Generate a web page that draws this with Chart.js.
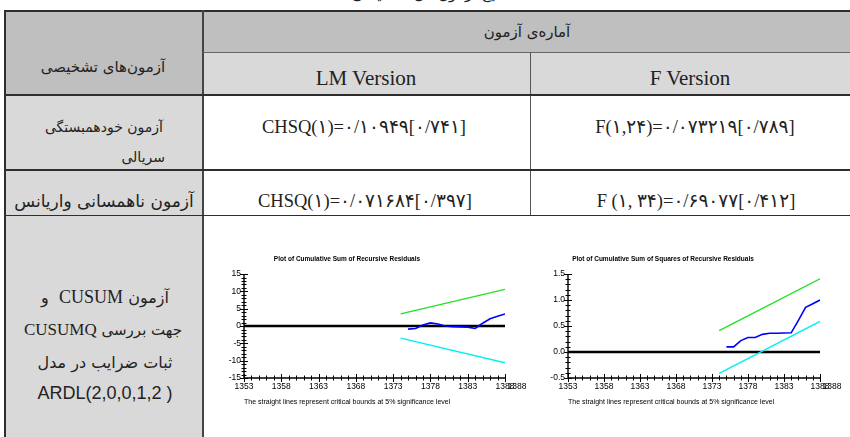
<!DOCTYPE html>
<html lang="fa">
<head>
<meta charset="UTF-8">
<title>آزمون‌های تشخیصی</title>
<script src="https://cdn.jsdelivr.net/npm/chart.js"></script>
<style>
  body { margin: 0; width: 850px; height: 437px; overflow: hidden; background: #fff; position: relative; }
  .box { position: absolute; }
  .ln { position: absolute; background: #2e2e2e; }
  .t { position: absolute; white-space: nowrap; color: #222; font-family: "DejaVu Sans", sans-serif; font-size: 15px; transform: translate(-50%, -50%); }
  .lat { font-family: "Liberation Serif", "DejaVu Sans", serif; font-size: 21px; direction: ltr; unicode-bidi: isolate; }
  canvas { position: absolute; }
</style>
</head>
<body>
<!-- cell backgrounds -->
<div class="box" style="left:5px;top:11px;width:198px;height:84px;background:#bfbfbf"></div>
<div class="box" style="left:203px;top:11px;width:647px;height:41px;background:#bfbfbf"></div>
<div class="box" style="left:203px;top:52px;width:647px;height:43px;background:#d9d9d9"></div>
<div class="box" style="left:5px;top:95px;width:198px;height:342px;background:#d9d9d9"></div>

<!-- grid lines -->
<div class="ln" style="left:4px;top:10px;width:846px;height:2px"></div>
<div class="ln" style="left:4px;top:10px;width:2px;height:427px"></div>
<div class="ln" style="left:202px;top:10px;width:2px;height:427px;background:#444"></div>
<div class="ln" style="left:203px;top:52px;width:647px;height:1px;background:#666"></div>
<div class="ln" style="left:530px;top:52px;width:1px;height:164px;background:#555"></div>
<div class="ln" style="left:4px;top:94px;width:846px;height:2px"></div>
<div class="ln" style="left:4px;top:169px;width:846px;height:2px"></div>
<div class="ln" style="left:4px;top:215px;width:846px;height:1px"></div>

<!-- texts -->
<div class="t" style="left:430px;top:-6px" dir="rtl">نتایج آزمون‌های تشخیصی</div>
<div class="t" style="left:527px;top:32px" dir="rtl">آماره‌ی آزمون</div>
<div class="t" style="left:103px;top:67px" dir="rtl">آزمون‌های تشخیصی</div>
<div class="t lat" style="left:366px;top:78px">LM Version</div>
<div class="t lat" style="left:690px;top:78px">F Version</div>

<div class="t lat" style="left:364px;top:127px;font-size:18.5px">CHSQ(۱)=۰/۱۰۹۴۹[۰/۷۴۱]</div>
<div class="t lat" style="left:695px;top:127px;font-size:18.5px">F(۱,۲۴)=۰/۰۷۳۲۱۹[۰/۷۸۹]</div>
<div class="t lat" style="left:365px;top:201px;font-size:18.5px">CHSQ(۱)=۰/۰۷۱۶۸۴[۰/۳۹۷]</div>
<div class="t lat" style="left:696px;top:201px;font-size:18.5px">F (۱, ۳۴)=۰/۶۹۰۷۷[۰/۴۱۲]</div>

<div class="t" style="left:auto;right:687px;top:127px;font-size:14px;transform:translateY(-50%)" dir="rtl">آزمون خودهمبستگی</div>
<div class="t" style="left:auto;right:685px;top:157px;font-size:14px;transform:translateY(-50%)" dir="rtl">سریالی</div>
<div class="t" style="left:104px;top:201px;font-size:17px" dir="rtl">آزمون ناهمسانی واریانس</div>

<div class="t" style="left:105px;top:297px;font-size:16px" dir="rtl">آزمون <span style="font-family:'Liberation Serif';font-size:18px">CUSUM</span>&nbsp; و</div>
<div class="t" style="left:103px;top:330px;font-size:15px" dir="ltr"><span style="font-family:'Liberation Serif';font-size:17px">CUSUMQ</span> جهت بررسی</div>
<div class="t" style="left:105px;top:362px;font-size:16px" dir="rtl">ثبات ضرایب در مدل</div>
<div class="t" style="left:105px;top:393px;font-size:18px;font-family:'Liberation Sans','DejaVu Sans'" dir="ltr">ARDL(2,0,0,1,2 )</div>

<canvas id="cusum" width="341" height="170" style="left:189px;top:250px"></canvas>
<canvas id="cusumsq" width="344" height="170" style="left:506px;top:250px"></canvas>

<script>
// x range of both plots
const axisYears = [1353, 1388];
const zeroLine = [0, 0];

// CUSUM plot
const boundYears = [1374, 1388];
const cusumUpper = [3.5, 10.6];
const cusumLower = [-3.5, -10.6];
const cusumYears = [1375, 1376, 1377, 1378, 1379, 1380, 1381, 1382, 1383, 1384, 1385, 1386, 1387, 1388];
const cusumValues = [-0.9, -0.7, 0.3, 0.9, 0.6, 0.0, -0.2, -0.25, -0.3, -0.7, 0.8, 2.1, 2.8, 3.5];

// CUSUM of squares plot
const sqUpper = [0.41, 1.41];
const sqLower = [-0.41, 0.59];
const sqValues = [0.10, 0.10, 0.22, 0.28, 0.28, 0.34, 0.36, 0.36, 0.365, 0.37, 0.61, 0.86, 0.93, 1.0];

const narrow = "'Liberation Sans Narrow', 'Liberation Sans', sans-serif";
const pts = (xs, ys) => xs.map((x, i) => ({x: x, y: ys[i]}));

// axis lines with "+" style ticks, and the repeated last year label
const crossTicks = {
  id: 'crossTicks',
  afterDatasetsDraw(chart, args, opts) {
    const {ctx, chartArea: a, scales: {x, y}} = chart;
    ctx.save();
    ctx.strokeStyle = '#000';
    ctx.lineWidth = 1.4;
    ctx.beginPath();
    ctx.moveTo(a.left, a.top);
    ctx.lineTo(a.left, a.bottom);
    ctx.lineTo(a.right, a.bottom);
    ctx.stroke();
    ctx.lineWidth = 1;
    ctx.beginPath();
    x.ticks.forEach(t => {
      const px = Math.round(x.getPixelForValue(t.value)) + 0.5;
      const len = t.label ? 4 : 2.5;
      ctx.moveTo(px, a.bottom - len);
      ctx.lineTo(px, a.bottom + len);
    });
    y.ticks.forEach(t => {
      const py = Math.round(y.getPixelForValue(t.value)) + 0.5;
      const len = t.label ? 4 : 2.5;
      ctx.moveTo(a.left - len, py);
      ctx.lineTo(a.left + len, py);
    });
    ctx.stroke();
    ctx.fillStyle = '#000';
    ctx.font = '8.5px ' + narrow;
    ctx.textAlign = 'center';
    ctx.textBaseline = 'top';
    ctx.fillText(String(axisYears[1]), x.getPixelForValue(axisYears[1]) + opts.ghost, a.bottom + 4);
    ctx.restore();
  }
};

function makeChart(id, title, upper, lower, values, yMin, yMax, yStep, yLabel, yWidth, padRight) {
  return new Chart(document.getElementById(id), {
    type: 'line',
    data: {
      datasets: [
        {data: pts(cusumYears, values), borderColor: '#0000ff', borderWidth: 1.6},
        {data: pts(boundYears, upper), borderColor: '#22e022', borderWidth: 1.4},
        {data: pts(boundYears, lower), borderColor: '#00f0f0', borderWidth: 1.4},
        {data: pts(axisYears, zeroLine), borderColor: '#000', borderWidth: 2.6}
      ]
    },
    options: {
      responsive: false,
      animation: false,
      layout: {padding: {left: 0, right: padRight, top: 0, bottom: 0}},
      elements: {point: {radius: 0}, line: {tension: 0}},
      plugins: {
        legend: {display: false},
        tooltip: {enabled: false},
        title: {
          display: true, text: title, color: '#000',
          font: {family: narrow, size: 6.5, weight: 'bold', lineHeight: 1.4},
          padding: {top: 5, bottom: 10}
        },
        crossTicks: {ghost: 12}
      },
      scales: {
        x: {
          type: 'linear', min: axisYears[0], max: axisYears[1],
          grid: {display: false, drawTicks: false},
          border: {display: false},
          afterFit: s => { s.height = 42; },
          ticks: {
            stepSize: 1, autoSkip: false, maxRotation: 0, minRotation: 0, padding: 4,
            color: '#000', font: {family: narrow, size: 8.5},
            callback: v => ((v - axisYears[0]) % 5 === 0 ? String(v) : '')
          },
          title: {
            display: true, align: 'start', color: '#000',
            text: 'The straight lines represent critical bounds at 5% significance level',
            font: {family: narrow, size: 7, lineHeight: 1.3}, padding: {top: 0, bottom: 13}
          }
        },
        y: {
          min: yMin, max: yMax,
          grid: {display: false, drawTicks: false},
          border: {display: false},
          afterFit: s => { s.width = yWidth; },
          ticks: {
            stepSize: yStep, autoSkip: false, padding: 3,
            color: '#000', font: {family: narrow, size: 8.5},
            callback: yLabel
          }
        }
      }
    },
    plugins: [crossTicks]
  });
}

makeChart('cusum', 'Plot of Cumulative Sum of Recursive Residuals',
  cusumUpper, cusumLower, cusumValues, -15, 15, 1,
  v => (Math.round(v) % 5 === 0 ? String(Math.round(v)) : ''), 55, 25);

makeChart('cusumsq', 'Plot of Cumulative Sum of Squares of Recursive Residuals',
  sqUpper, sqLower, sqValues, -0.5, 1.5, 0.1,
  v => (Math.abs(v * 2 - Math.round(v * 2)) < 1e-6 ? (Math.round(v * 2) / 2).toFixed(1) : ''), 62, 30);
</script>
</body>
</html>
